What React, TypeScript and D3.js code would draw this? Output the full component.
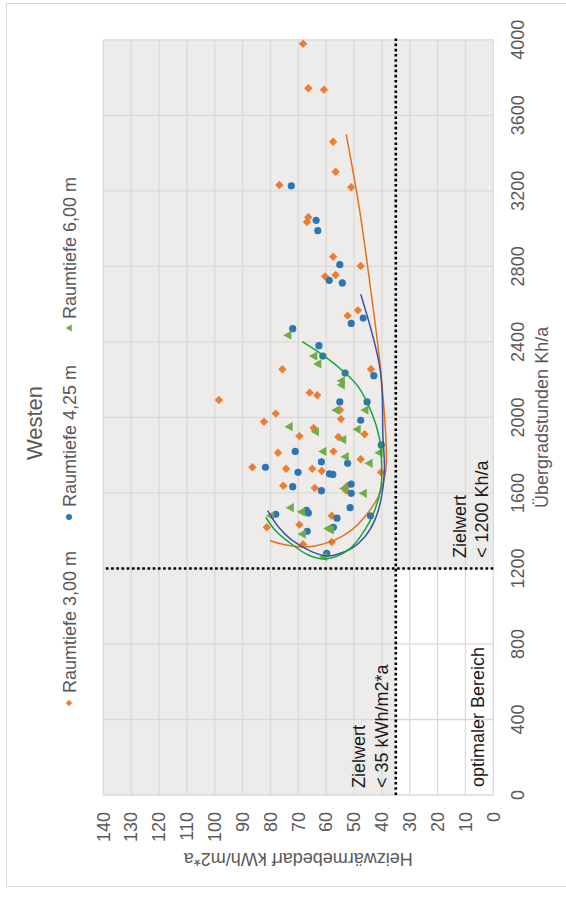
import React from 'react';
import * as d3 from 'd3';

// Values: [Heizwärmebedarf kWh/m2*a, Übergradstunden Kh/a]
const khTicks = [0, 400, 800, 1200, 1600, 2000, 2400, 2800, 3200, 3600, 4000];
const hwTicks = [0, 10, 20, 30, 40, 50, 60, 70, 80, 90, 100, 110, 120, 130, 140];
const seriesNames = ['Raumtiefe 3,00 m', 'Raumtiefe 4,25 m', 'Raumtiefe 6,00 m'];
const titleText = 'Westen';
const khTitle = 'Übergradstunden Kh/a';
const hwTitle = 'Heizwärmebedarf kWh/m2*a';
const targetHw = 35;
const targetKh = 1200;

const points300: [number, number][] = [
  [68.3, 3979], [66.4, 3743], [60.8, 3736], [57.5, 3460], [56.6, 3301], [76.8, 3231], [51.0, 3219],
  [66.4, 3060], [66.9, 3035], [57.5, 2851], [47.6, 2802], [60.4, 2747], [56.6, 2754], [48.6, 2567],
  [52.3, 2539], [75.7, 2255], [43.9, 2255], [65.9, 2131], [63.2, 2117], [55.0, 2039], [78.1, 2020],
  [54.7, 1991], [82.3, 1977], [64.5, 1944], [46.2, 1911], [69.6, 1901], [55.6, 1896], [57.4, 1820],
  [77.3, 1813], [47.6, 1778], [86.5, 1736], [74.4, 1728], [65.0, 1728], [61.6, 1716], [40.3, 1709],
  [75.4, 1638], [64.1, 1626], [52.5, 1637], [52.8, 1612], [58.0, 1479], [81.3, 1418], [69.6, 1432],
  [68.3, 1328], [58.0, 1340], [98.5, 2092],
];
const points425: [number, number][] = [
  [72.5, 3226], [63.6, 3044], [63.0, 2989], [55.1, 2809], [58.9, 2726], [54.2, 2712], [46.7, 2526],
  [51.0, 2498], [72.0, 2470], [62.6, 2380], [61.2, 2325], [53.2, 2235], [42.9, 2221], [55.1, 2082],
  [45.3, 2082], [47.6, 1985], [40.2, 1854], [71.1, 1820], [61.7, 1765], [52.3, 1757], [81.8, 1736],
  [70.1, 1709], [58.8, 1701], [57.6, 1698], [72.0, 1633], [61.7, 1612], [51.0, 1647], [51.0, 1598],
  [78.1, 1487], [67.1, 1508], [66.4, 1494], [51.4, 1522], [56.1, 1466], [44.1, 1479], [57.4, 1418],
  [66.8, 1397], [59.8, 1280],
];
const points600: [number, number][] = [
  [73.8, 2435], [64.5, 2325], [63.0, 2283], [54.6, 2194], [54.6, 2172], [56.5, 2039], [46.1, 2039],
  [73.3, 1951], [63.9, 1924], [48.9, 1937], [54.1, 1882], [61.2, 1820], [41.0, 1813], [53.2, 1792],
  [44.6, 1757], [53.7, 1624], [46.7, 1598], [72.9, 1522], [80.0, 1479], [68.9, 1500], [59.4, 1411],
  [58.5, 1404], [68.6, 1382], [60.9, 1262],
];

const trend300: [number, number][] = [
  [52.8, 3499], [48.0, 3098], [44.0, 2675], [40.1, 2198], [38.6, 1721], [41.3, 1580], [46.1, 1474],
  [50.8, 1404], [56.8, 1351], [64.0, 1319], [70.0, 1315], [76.0, 1329], [80.1, 1347],
];
const trend425: [number, number][] = [
  [47.6, 2652], [40.6, 2251], [39.6, 1898], [39.1, 1721], [40.1, 1580], [42.5, 1457], [46.1, 1368],
  [50.8, 1307], [56.8, 1271], [60.4, 1267], [65.2, 1289], [72.4, 1351], [77.2, 1421], [81.0, 1506],
];
const trend600: [number, number][] = [
  [68.6, 2401], [60.4, 2322], [54.4, 2251], [48.5, 2163], [43.6, 2022], [41.0, 1898], [40.1, 1757],
  [40.3, 1633], [42.5, 1510], [46.1, 1404], [52.0, 1298], [60.4, 1250], [66.4, 1271], [73.6, 1342],
  [78.4, 1404], [81.7, 1471],
];

const PAGE_W = 566;
const PAGE_H = 899;
// unrotated frame: width = PAGE_H, height = PAGE_W
const FW = PAGE_H;

const C_OR = '#ED7D31';
const C_BL = '#2E75B6';
const C_GR = '#70AD47';
const L_OR = '#E2711D';
const L_BL = '#3F51A8';
const L_GR = '#13A538';
const GRID = '#D9D9D9';
const TXT = '#595959';
const FONT = '"Liberation Sans", Arial, sans-serif';

const x = d3.scaleLinear().domain([0, 4000]).range([104, 859.2]);
const y = d3.scaleLinear().domain([0, 140]).range([493.3, 103.3]);

const diamond = (s: number) => `M0,${-s}L${s},0L0,${s}L${-s},0Z`;
const triangle = (s: number) => `M0,${-s}L${s},${s * 0.78}L${-s},${s * 0.78}Z`;

const lineGen = d3
  .line<[number, number]>()
  .x((d) => x(d[1]))
  .y((d) => y(d[0]))
  .curve(d3.curveCatmullRom.alpha(0.5));

export default function App() {
  const [x0, x1] = x.range();
  const [yb, yt] = y.range();
  return (
    <svg
      width={PAGE_W}
      height={PAGE_H}
      style={{ position: 'absolute', left: 0, top: 0, background: '#fff' }}
      fontFamily={FONT}
    >
      <g transform={`translate(0,${FW}) rotate(-90)`}>
        {/* chart border */}
        <rect x={12.5} y={6.5} width={883} height={570} fill="#fff" stroke={GRID} strokeWidth={1} />
        {/* plot background */}
        <rect x={x0} y={yt} width={x1 - x0} height={yb - yt} fill="#EDECEB" />
        <rect
          x={x(0)}
          y={y(targetHw)}
          width={x(targetKh) - x(0)}
          height={y(0) - y(targetHw)}
          fill="#fff"
        />
        {/* grid */}
        {khTicks.map((t) => (
          <line key={'kx' + t} x1={x(t)} x2={x(t)} y1={yt} y2={yb} stroke={GRID} strokeWidth={1.3} />
        ))}
        {hwTicks.map((t) => (
          <line key={'hy' + t} x1={x0} x2={x1} y1={y(t)} y2={y(t)} stroke={GRID} strokeWidth={1.3} />
        ))}
        {/* tick labels */}
        {khTicks.map((t) => (
          <text key={'kl' + t} x={x(t)} y={524} textAnchor="middle" fontSize={18} fill={TXT}>
            {t}
          </text>
        ))}
        {hwTicks.map((t) => (
          <text key={'hl' + t} x={87} y={y(t)} dy="0.35em" textAnchor="end" fontSize={18} fill={TXT}>
            {t}
          </text>
        ))}
        {/* axis titles */}
        <text x={(x0 + x1) / 2} y={548} textAnchor="middle" fontSize={18} fill={TXT}>
          {khTitle}
        </text>
        <text
          transform={`translate(46,${(yb + yt) / 2}) rotate(-90)`}
          textAnchor="middle"
          fontSize={18}
          fill={TXT}
        >
          {hwTitle}
        </text>
        {/* title */}
        <text x={476} y={42} textAnchor="middle" fontSize={22} fill={TXT}>
          {titleText}
        </text>
        {/* legend */}
        <g fontSize={18} fill={TXT}>
          <path d={diamond(3.2)} transform={`translate(196,69)`} fill={C_OR} />
          <text x={206} y={76}>{seriesNames[0]}</text>
          <circle cx={382} cy={69} r={3} fill={C_BL} />
          <text x={392} y={76}>{seriesNames[1]}</text>
          <path d={triangle(3.5)} transform={`translate(571,69)`} fill={C_GR} />
          <text x={580} y={76}>{seriesNames[2]}</text>
        </g>
        {/* markers */}
        {points300.map((d, i) => (
          <path key={'o' + i} d={diamond(4.2)} transform={`translate(${x(d[1])},${y(d[0])})`} fill={C_OR} />
        ))}
        {points425.map((d, i) => (
          <circle key={'b' + i} cx={x(d[1])} cy={y(d[0])} r={3.6} fill={C_BL} />
        ))}
        {points600.map((d, i) => (
          <path key={'g' + i} d={triangle(4.6)} transform={`translate(${x(d[1])},${y(d[0])})`} fill={C_GR} />
        ))}
        {/* trend lines */}
        <path d={lineGen(trend300) || ''} fill="none" stroke={L_OR} strokeWidth={1.5} />
        <path d={lineGen(trend425) || ''} fill="none" stroke={L_BL} strokeWidth={1.5} />
        <path d={lineGen(trend600) || ''} fill="none" stroke={L_GR} strokeWidth={1.5} />
        {/* target lines */}
        <line
          x1={x(0)}
          x2={x(4000) + 4}
          y1={y(targetHw)}
          y2={y(targetHw)}
          stroke="#000"
          strokeWidth={2.6}
          strokeDasharray="2.6 2.6"
        />
        <line
          x1={x(targetKh)}
          x2={x(targetKh)}
          y1={y(0)}
          y2={y(140)}
          stroke="#000"
          strokeWidth={2.6}
          strokeDasharray="2.6 2.6"
        />
        {/* annotations */}
        <g fontSize={18} fill="#1a1a1a">
          <text x={111} y={365}>Zielwert</text>
          <text x={111} y={388}>&lt; 35 kWh/m2*a</text>
          <text x={341} y={466}>Zielwert</text>
          <text x={341} y={488}>&lt; 1200 Kh/a</text>
          <text x={112} y={484}>optimaler Bereich</text>
        </g>
      </g>
    </svg>
  );
}
